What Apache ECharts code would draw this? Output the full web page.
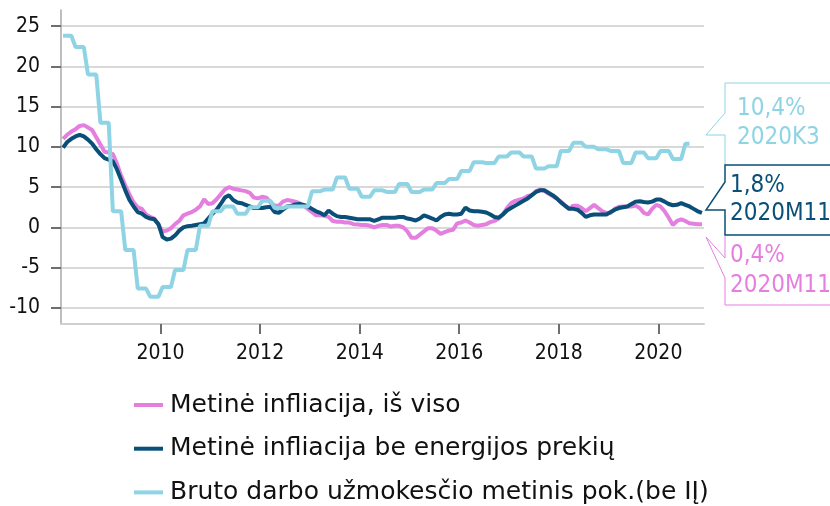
<!DOCTYPE html>
<html>
<head>
<meta charset="utf-8">
<script src="https://cdn.jsdelivr.net/npm/echarts@6/dist/echarts.min.js"></script>
<style>
  html, body { margin: 0; padding: 0; background: #fff; }
  #chart { width: 830px; height: 506px; }
</style>
</head>
<body>
<div id="chart"></div>
<script>
// monthly categories, Jan 2008 .. Nov 2020
const months = [];
for (let y = 2008; y <= 2020; y++) {
  for (let m = 1; m <= 12; m++) {
    if (y === 2020 && m > 11) break;
    months.push(y + '-' + (m < 10 ? '0' + m : m));
  }
}
const yearTicks = ['2010', '2012', '2014', '2016', '2018', '2020'];
const valueTicks = [-10, -5, 0, 5, 10, 15, 20, 25];

const names = [
  'Metinė infliacija, iš viso',
  'Metinė infliacija be energijos prekių',
  'Bruto darbo užmokesčio metinis pok.(be IĮ)'
];

// metinė infliacija, iš viso
const inflTotal = [
  11.0, 11.5, 11.9, 12.2, 12.6, 12.7, 12.4, 12.1, 11.2, 10.3, 9.4, 9.3,
  9.1, 7.9, 6.4, 5.2, 4.1, 3.1, 2.5, 2.3, 1.6, 1.3, 1.1, 0.3,
  -0.5, -0.4, -0.1, 0.4, 0.8, 1.5, 1.7, 1.9, 2.2, 2.6, 3.5, 2.9,
  3.0, 3.5, 4.1, 4.7, 5.0, 4.8, 4.7, 4.6, 4.5, 4.3, 3.7, 3.6,
  3.8, 3.7, 3.1, 2.7, 2.7, 3.2, 3.4, 3.3, 3.2, 3.0, 2.7, 2.3,
  1.9, 1.5, 1.5, 1.45, 1.3, 0.8, 0.7, 0.7, 0.6, 0.6, 0.4, 0.35,
  0.3, 0.3, 0.2, 0.0, 0.2, 0.3, 0.3, 0.1, 0.2, 0.2, 0.0, -0.5,
  -1.3, -1.3, -0.9, -0.5, -0.1, -0.1, -0.4, -0.8, -0.6, -0.4, -0.3, 0.5,
  0.6, 0.85, 0.6, 0.3, 0.2, 0.3, 0.4, 0.65, 0.8, 1.1, 1.6, 2.4,
  3.0, 3.3, 3.45, 3.6, 3.9, 4.0, 4.5, 4.7, 4.55, 4.2, 3.9, 3.6,
  3.2, 2.7, 2.3, 2.7, 2.7, 2.4, 2.0, 2.4, 2.8, 2.4, 2.0, 1.8,
  1.8, 2.3, 2.55, 2.6, 2.6, 2.6, 2.7, 2.4, 1.8, 1.6, 2.3, 2.8,
  2.6, 2.0, 1.2, 0.3, 0.8, 1.0, 0.8, 0.5, 0.45, 0.4, 0.4
];

// metinė infliacija be energijos prekių
const inflCore = [
  9.9, 10.6, 11.0, 11.3, 11.5, 11.3, 10.9, 10.4, 9.7, 9.1, 8.6, 8.4,
  8.2, 7.2, 5.9, 4.6, 3.4, 2.6, 1.9, 1.7, 1.3, 1.1, 1.0, 0.4,
  -1.2, -1.5, -1.4, -1.0, -0.4, 0.0, 0.15, 0.2, 0.3, 0.4, 0.5, 1.1,
  1.7, 2.2, 2.9, 3.7, 4.0, 3.4, 3.1, 3.0, 2.8, 2.6, 2.4, 2.4,
  2.4, 2.5, 2.55, 1.9, 1.8, 2.2, 2.6, 2.7, 2.85, 2.9, 2.8, 2.6,
  2.3, 2.0, 1.8, 1.5, 2.1, 1.7, 1.4, 1.3, 1.3, 1.2, 1.1, 1.0,
  1.0, 1.0, 1.0, 0.8, 1.0, 1.2, 1.2, 1.2, 1.2, 1.3, 1.3, 1.1,
  1.0, 0.85, 1.1, 1.5, 1.3, 1.1, 0.85, 1.3, 1.6, 1.7, 1.6, 1.6,
  1.7, 2.45, 2.1, 2.0, 2.0, 1.95, 1.85, 1.6, 1.3, 1.2, 1.6, 2.1,
  2.4, 2.7, 3.0, 3.3, 3.6, 4.0, 4.4, 4.6, 4.6, 4.3, 4.0, 3.6,
  3.1, 2.7, 2.3, 2.3, 2.2, 1.8, 1.3, 1.5, 1.6, 1.6, 1.6, 1.6,
  1.9, 2.2, 2.4, 2.5, 2.6, 2.9, 3.2, 3.25, 3.15, 3.1, 3.2, 3.45,
  3.45, 3.2, 2.9, 2.75, 2.8, 3.0, 2.8, 2.6, 2.3, 2.0, 1.8
];

// bruto DU metinis pokytis (ketvirtinis, kartojamas kas mėnesį)
const wages = [
  23.8, 23.8, 23.8, 22.4, 22.4, 22.4, 19.0, 19.0, 19.0, 13.0, 13.0, 13.0,
  2.0, 2.0, 2.0, -2.8, -2.8, -2.8, -7.6, -7.6, -7.6, -8.6, -8.6, -8.6,
  -7.4, -7.4, -7.4, -5.3, -5.3, -5.3, -2.8, -2.8, -2.8, 0.2, 0.2, 0.2,
  2.0, 2.0, 2.0, 2.6, 2.6, 2.6, 1.7, 1.7, 1.7, 2.5, 2.5, 2.5,
  3.3, 3.3, 3.3, 2.4, 2.4, 2.4, 2.6, 2.6, 2.6, 2.6, 2.6, 2.6,
  4.5, 4.5, 4.5, 4.7, 4.7, 4.7, 6.2, 6.2, 6.2, 4.8, 4.8, 4.8,
  3.8, 3.8, 3.8, 4.6, 4.6, 4.6, 4.4, 4.4, 4.4, 5.4, 5.4, 5.4,
  4.4, 4.4, 4.4, 4.7, 4.7, 4.7, 5.5, 5.5, 5.5, 6.0, 6.0, 6.0,
  7.0, 7.0, 7.0, 8.1, 8.1, 8.1, 8.0, 8.0, 8.0, 8.8, 8.8, 8.8,
  9.3, 9.3, 9.3, 8.8, 8.8, 8.8, 7.3, 7.3, 7.3, 7.6, 7.6, 7.6,
  9.5, 9.5, 9.5, 10.5, 10.5, 10.5, 10.0, 10.0, 10.0, 9.7, 9.7, 9.7,
  9.5, 9.5, 9.5, 8.0, 8.0, 8.0, 9.3, 9.3, 9.3, 8.6, 8.6, 8.6,
  9.5, 9.5, 9.5, 8.5, 8.5, 8.5, 10.4, 10.4, null, null, null
];

const colors = ['#e47fe0', '#0a4f78', '#8ed4e4'];
const FONT = '"DejaVu Sans Condensed", "DejaVu Sans", sans-serif';
const LEGEND_FONT = '"DejaVu Sans", sans-serif';

function pairs(arr) {
  return arr.map((v, i) => [i, v]);
}

const chart = echarts.init(document.getElementById('chart'), null, { renderer: 'canvas' });

chart.setOption({
  animation: false,
  backgroundColor: '#fff',
  grid: { left: 61, right: 126, top: 10, bottom: 182 },
  xAxis: {
    type: 'value',
    min: -0.5,
    max: months.length - 0.5,
    axisLine: { onZero: false, lineStyle: { color: '#d0d0d0', width: 2 } },
    axisTick: {
      length: 10,
      lineStyle: { color: '#6e6e6e', width: 2 },
      customValues: yearTicks.map(y => months.indexOf(y + '-01') - 0.5)
    },
    axisLabel: {
      margin: 19,
      fontSize: 21,
      fontFamily: FONT,
      color: '#111',
      customValues: yearTicks.map(y => months.indexOf(y + '-01') - 0.5),
      formatter: v => months[Math.round(v + 0.5)].slice(0, 4)
    },
    splitLine: { show: false }
  },
  yAxis: {
    type: 'value',
    min: -12,
    max: 27,
    axisLine: { show: true, onZero: false, lineStyle: { color: '#a8a8a8', width: 1.5 } },
    axisTick: {
      show: true,
      length: 10,
      lineStyle: { color: '#6e6e6e', width: 2 },
      customValues: valueTicks
    },
    axisLabel: {
      margin: 21,
      fontSize: 21,
      fontFamily: FONT,
      color: '#111',
      customValues: valueTicks
    },
    splitLine: { show: true, lineStyle: { color: '#d9d9d9', width: 2 } }
  },
  legend: {
    orient: 'vertical',
    left: 134,
    top: 392,
    padding: 0,
    itemGap: 17.7,
    itemWidth: 29,
    itemHeight: 4,
    icon: 'rect',
    textStyle: { fontSize: 25, lineHeight: 26, fontFamily: LEGEND_FONT, color: '#111', padding: [0, 0, 0, 2] },
    data: names
  },
  series: [
    { name: names[0], data: pairs(inflTotal), color: colors[0] },
    { name: names[1], data: pairs(inflCore), color: colors[1] },
    { name: names[2], data: pairs(wages), color: colors[2] }
  ].map(s => Object.assign({
    type: 'line',
    showSymbol: false,
    lineStyle: { width: 4, color: s.color },
    itemStyle: { color: s.color }
  }, s)),
  graphic: [
    {
      type: 'polyline',
      shape: { points: [[845, 83], [725, 83], [725, 113], [706, 135], [725, 135], [725, 165]] },
      style: { stroke: colors[2], fill: null, lineWidth: 1 }
    },
    {
      type: 'polyline',
      shape: { points: [[845, 165], [725, 165], [725, 182], [706, 210], [725, 210], [725, 235], [845, 235]] },
      style: { stroke: colors[1], fill: null, lineWidth: 1.5 }
    },
    {
      type: 'polyline',
      shape: { points: [[725, 236], [725, 258], [706, 237], [725, 278], [725, 305], [845, 305]] },
      style: { stroke: colors[0], fill: null, lineWidth: 1 }
    },
    { type: 'text', x: 737, y: 109, style: { text: '10,4%', fill: colors[2], font: '24px ' + FONT, verticalAlign: 'middle' } },
    { type: 'text', x: 737, y: 138, style: { text: '2020K3', fill: colors[2], font: '24px ' + FONT, verticalAlign: 'middle' } },
    { type: 'text', x: 730, y: 186, style: { text: '1,8%', fill: colors[1], font: '24px ' + FONT, verticalAlign: 'middle' } },
    { type: 'text', x: 730, y: 214, style: { text: '2020M11', fill: colors[1], font: '24px ' + FONT, verticalAlign: 'middle' } },
    { type: 'text', x: 730, y: 256, style: { text: '0,4%', fill: colors[0], font: '24px ' + FONT, verticalAlign: 'middle' } },
    { type: 'text', x: 730, y: 286, style: { text: '2020M11', fill: colors[0], font: '24px ' + FONT, verticalAlign: 'middle' } }
  ]
});
</script>
</body>
</html>
